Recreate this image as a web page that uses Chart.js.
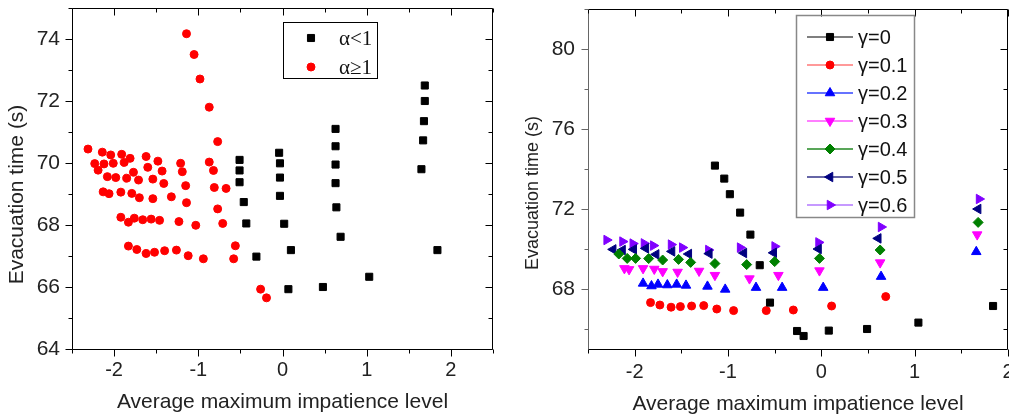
<!DOCTYPE html>
<html lang="en">
<head>
<meta charset="UTF-8">
<title>Evacuation time vs impatience level</title>
<style>
  html, body { margin: 0; padding: 0; background: #fff; overflow: hidden; }
  #left { position: absolute; left: 0; top: 0; width: 510px; height: 418px; }
  #right { position: absolute; left: 515px; top: 0; width: 520px; height: 418px; }
</style>
</head>
<body>
<div id="left"><canvas id="chartA"></canvas></div>
<div id="right"><canvas id="chartB"></canvas></div>

<script src="https://cdn.jsdelivr.net/npm/chart.js"></script>
<script>
// ---- left panel: alpha < 1 / alpha >= 1
const alphaLowX = [-0.51, -0.51, -0.51, -0.46, -0.43, -0.31,
  -0.04, -0.03, -0.03, -0.03, 0.02, 0.10, 0.07,
  0.63, 0.63, 0.63, 0.63, 0.64, 0.69, 0.48,
  1.69, 1.69, 1.68, 1.67, 1.65, 1.03, 1.84];
const alphaLowY = [70.10, 69.76, 69.38, 68.74, 68.05, 66.98,
  70.33, 69.99, 69.53, 68.94, 68.04, 67.19, 65.93,
  71.10, 70.54, 69.95, 69.35, 68.57, 67.62, 66.00,
  72.50, 72.00, 71.35, 70.73, 69.80, 66.33, 67.19];

const alphaHighX = [-2.31, -2.14, -2.04, -1.91, -1.81, -1.62, -1.48, -1.21, -0.87,
  -2.23, -2.12, -2.01, -1.88, -2.19, -1.60, -1.77, -1.43, -1.19, -0.82,
  -2.08, -1.98, -1.85, -1.71, -1.54, -1.41, -1.15, -0.81, -0.67,
  -2.13, -2.06, -1.92, -1.79, -1.70, -1.54, -1.32, -1.14, -0.77,
  -1.92, -1.83, -1.76, -1.66, -1.56, -1.46, -1.23, -1.03, -0.71,
  -1.83, -1.73, -1.62, -1.52, -1.40, -1.26, -1.12, -0.94, -0.58, -0.56,
  -1.14, -1.05, -0.98, -0.87, -0.77, -0.26, -0.19];
const alphaHighY = [70.45, 70.35, 70.26, 70.28, 70.15, 70.21, 70.06, 69.99, 70.03,
  69.98, 69.97, 69.99, 70.02, 69.77, 69.86, 69.70, 69.74, 69.72, 69.76,
  69.56, 69.53, 69.51, 69.45, 69.48, 69.34, 69.27, 69.21, 69.18,
  69.07, 69.01, 69.06, 69.02, 68.88, 68.85, 68.91, 68.72, 68.52,
  68.25, 68.09, 68.22, 68.17, 68.19, 68.15, 68.11, 67.99, 68.05,
  67.32, 67.21, 67.08, 67.12, 67.17, 67.19, 67.01, 66.91, 66.91, 67.33,
  74.17, 73.50, 72.71, 71.80, 70.69, 65.93, 65.65];

// ---- right panel: gamma series
const gammaLabels = ['γ=0', 'γ=0.1', 'γ=0.2', 'γ=0.3', 'γ=0.4', 'γ=0.5', 'γ=0.6'];
const gamma0X = [-1.14, -1.04, -0.98, -0.87, -0.76, -0.66, -0.55, -0.26, -0.19, 0.08, 0.49, 1.04, 1.84];
const gamma0Y = [74.17, 73.52, 72.74, 71.82, 70.72, 69.19, 67.32, 65.90, 65.65, 65.92, 66.00, 66.32, 67.15];
const gamma1X = [-1.83, -1.73, -1.61, -1.51, -1.39, -1.26, -1.12, -0.94, -0.59, -0.30, 0.11, 0.69];
const gamma1Y = [67.32, 67.20, 67.09, 67.12, 67.15, 67.17, 67.00, 66.92, 66.92, 66.95, 67.15, 67.62];
const gamma2X = [-1.91, -1.82, -1.75, -1.65, -1.55, -1.45, -1.22, -1.03, -0.70, -0.42, 0.02, 0.64, 1.66];
const gamma2Y = [68.28, 68.15, 68.23, 68.20, 68.23, 68.18, 68.13, 67.98, 68.07, 68.07, 68.07, 68.62, 69.86];
const gamma3X = [-2.11, -2.06, -1.91, -1.79, -1.70, -1.54, -1.31, -1.14, -0.77, -0.46, -0.02, 0.63, 1.67];
const gamma3Y = [69.03, 68.98, 69.03, 69.00, 68.88, 68.85, 68.90, 68.69, 68.52, 68.69, 68.92, 69.32, 70.72];
const gamma4X = [-2.17, -2.08, -1.99, -1.85, -1.70, -1.53, -1.40, -1.14, -0.80, -0.50, -0.02, 0.63, 1.68];
const gamma4Y = [69.75, 69.53, 69.53, 69.52, 69.45, 69.48, 69.33, 69.27, 69.22, 69.37, 69.53, 69.95, 71.33];
const gamma5X = [-2.23, -2.13, -2.01, -1.88, -1.77, -1.60, -1.42, -1.20, -0.83, -0.51, -0.03, 0.61, 1.68];
const gamma5Y = [69.98, 69.95, 69.98, 70.03, 69.73, 69.88, 69.75, 69.77, 69.80, 69.81, 70.00, 70.53, 72.00];
const gamma6X = [-2.30, -2.13, -2.02, -1.90, -1.80, -1.61, -1.49, -1.21, -0.87, -0.50, -0.03, 0.64, 1.69];
const gamma6Y = [70.45, 70.37, 70.27, 70.28, 70.17, 70.22, 70.07, 69.95, 70.07, 70.13, 70.33, 71.10, 72.50];

const xTitle = 'Average maximum impatience level';
const yTitle = 'Evacuation time (s)';

function pts(xs, ys) { return xs.map((x, i) => ({x: x, y: ys[i]})); }

// marker styles for the gamma series
const gammaStyles = [
  {color: '#000000', line: '#555555', style: 'rect', radius: 5, rotation: 0},
  {color: '#ff0000', line: '#ff7777', style: 'circle', radius: 4, rotation: 0},
  {color: '#0000ff', line: '#3344ff', style: 'triangle', radius: 5.5, rotation: 0},
  {color: '#ff00ff', line: '#ff55ff', style: 'triangle', radius: 5.5, rotation: 180},
  {color: '#008000', line: '#228822', style: 'rectRot', radius: 5, rotation: 0},
  {color: '#000080', line: '#333388', style: 'triangle', radius: 5.5, rotation: 270},
  {color: '#8000ff', line: '#b377ff', style: 'triangle', radius: 5.5, rotation: 90}
];
const gammaData = [[gamma0X, gamma0Y], [gamma1X, gamma1Y], [gamma2X, gamma2Y], [gamma3X, gamma3Y],
  [gamma4X, gamma4Y], [gamma5X, gamma5Y], [gamma6X, gamma6Y]];

const sans = "'Liberation Sans', Arial, sans-serif";

function drawMarker(ctx, style, radius, rotation, x, y, color) {
  ctx.fillStyle = color;
  ctx.strokeStyle = color;
  ctx.lineWidth = 1;
  if (Chart.helpers && Chart.helpers.drawPoint) {
    Chart.helpers.drawPoint(ctx, {pointStyle: style, radius: radius, rotation: rotation, borderWidth: 1}, x, y);
  } else {
    ctx.beginPath(); ctx.arc(x, y, radius, 0, Math.PI * 2); ctx.fill();
  }
}

// frame + inside/outside tick marks
const framePlugin = {
  id: 'frame',
  afterDatasetsDraw(chart, args, opts) {
    const ctx = chart.ctx;
    const {left, right, top, bottom} = chart.chartArea;
    const xs = chart.scales.x, ys = chart.scales.y;
    const L = Math.round(left) + 0.5, R = Math.round(right) - 0.5;
    const T = Math.round(top) + 0.5, B = Math.round(bottom) + 0.5;
    ctx.save();
    ctx.lineWidth = 1;
    const seg = (x1, y1, x2, y2, c) => {
      ctx.strokeStyle = c || opts.color;
      ctx.beginPath(); ctx.moveTo(x1, y1); ctx.lineTo(x2, y2); ctx.stroke();
    };
    seg(L, T, R, T); seg(R, T, R, B); seg(L, B, R, B); seg(L, T, L, B, opts.leftColor);
    xs.ticks.forEach(t => {
      const px = Math.round(xs.getPixelForValue(t.value)) + 0.5;
      const len = t.label !== '' ? opts.major : opts.minor;
      seg(px, B, px, B + len);
      seg(px, T, px, T + len);
    });
    ys.ticks.forEach(t => {
      const py = Math.round(ys.getPixelForValue(t.value)) + 0.5;
      const len = t.label !== '' ? opts.major : opts.minor;
      seg(L - len, py, L, py, opts.leftColor);
      seg(R - len, py, R, py);
    });
    // rotated y title
    ctx.fillStyle = '#222';
    ctx.font = opts.yFont + 'px ' + sans;
    ctx.textAlign = 'center';
    ctx.textBaseline = 'middle';
    ctx.translate(left - opts.yTitleDx, (top + bottom) / 2 + opts.yTitleDy);
    ctx.rotate(-Math.PI / 2);
    ctx.fillText(yTitle, 0, 0);
    ctx.restore();
  }
};

// boxed legends drawn inside the plot area
const legendPlugin = {
  id: 'boxLegend',
  afterDraw(chart, args, opts) {
    const ctx = chart.ctx;
    const a = chart.chartArea;
    const bx = a.left + opts.dx, by = a.top + opts.dy;
    ctx.save();
    ctx.strokeStyle = opts.border;
    ctx.lineWidth = opts.borderWidth;
    ctx.strokeRect(Math.round(bx) + 0.5, Math.round(by) + 0.5, opts.w, opts.h);
    ctx.font = opts.font;
    ctx.textBaseline = 'middle';
    ctx.textAlign = 'left';
    chart.data.datasets.forEach((ds, i) => {
      const y = by + opts.firstRow + i * opts.rowGap;
      if (opts.lines) {
        ctx.strokeStyle = ds.lineColor;
        ctx.lineWidth = 1.5;
        ctx.beginPath(); ctx.moveTo(bx + opts.lineX0, y); ctx.lineTo(bx + opts.lineX1, y); ctx.stroke();
      }
      drawMarker(ctx, ds.pointStyle, ds.pointRadius, ds.pointRotation || 0, bx + opts.markerX, y, ds.backgroundColor);
      ctx.fillStyle = '#111';
      ctx.fillText(ds.label, bx + opts.textX, y + 1);
    });
    ctx.restore();
  }
};

function xAxis(max, labelPad, titlePad) {
  return {
    type: 'linear', min: -2.5, max: max,
    afterFit: s => { s.height = 69; s.paddingLeft = 0; s.paddingRight = 0; },
    grid: {display: false, drawTicks: false},
    border: {display: false},
    ticks: {
      stepSize: 0.5, autoSkip: false, maxRotation: 0, padding: labelPad,
      color: '#222', font: {family: sans, size: 20},
      callback: v => Number.isInteger(v) ? String(v) : ''
    },
    title: {display: true, text: xTitle, color: '#222', font: {family: sans, size: 21},
      padding: {top: 0, bottom: titlePad}}
  };
}

function yAxis(min, max, step, labelEvery, width, labelPad) {
  return {
    type: 'linear', min: min, max: max,
    afterFit: s => { s.width = width; s.paddingTop = 0; s.paddingBottom = 0; },
    grid: {display: false, drawTicks: false},
    border: {display: false},
    ticks: {
      stepSize: step, includeBounds: false, autoSkip: false, padding: labelPad,
      color: '#222', font: {family: sans, size: 21},
      callback: v => v % labelEvery === 0 ? String(v) : ''
    }
  };
}

new Chart(document.getElementById('chartA'), {
  type: 'scatter',
  data: {
    datasets: [
      {label: 'α<1', data: pts(alphaLowX, alphaLowY), pointStyle: 'rect', pointRadius: 5,
        backgroundColor: '#000000', borderColor: '#000000', borderWidth: 1},
      {label: 'α≥1', data: pts(alphaHighX, alphaHighY), pointStyle: 'circle', pointRadius: 4,
        backgroundColor: '#ff0000', borderColor: '#ff0000', borderWidth: 1}
    ]
  },
  options: {
    responsive: true, maintainAspectRatio: false, animation: false,
    layout: {padding: {left: 0, top: 8, right: 17, bottom: 0}},
    plugins: {
      legend: {display: false}, tooltip: {enabled: false},
      frame: {color: '#000', leftColor: '#000', major: 7, minor: 4, yFont: 21, yTitleDx: 55, yTitleDy: 16},
      boxLegend: {dx: 211, dy: 14, w: 94, h: 56, border: '#000', borderWidth: 1,
        font: "21px 'Liberation Serif', 'Times New Roman', serif", firstRow: 16, rowGap: 29,
        lines: false, markerX: 28, textX: 56}
    },
    scales: {x: xAxis(2.5, 9, 3), y: yAxis(64, 75, 1, 2, 72, 12)}
  },
  plugins: [framePlugin, legendPlugin]
});

new Chart(document.getElementById('chartB'), {
  type: 'scatter',
  data: {
    datasets: gammaData.map((d, i) => ({
      label: gammaLabels[i], data: pts(d[0], d[1]),
      pointStyle: gammaStyles[i].style, pointRadius: gammaStyles[i].radius,
      pointRotation: gammaStyles[i].rotation,
      backgroundColor: gammaStyles[i].color, borderColor: gammaStyles[i].color, borderWidth: 1,
      lineColor: gammaStyles[i].line
    }))
  },
  options: {
    responsive: true, maintainAspectRatio: false, animation: false,
    layout: {padding: {left: 0, top: 9, right: 27, bottom: 0}},
    plugins: {
      legend: {display: false}, tooltip: {enabled: false},
      frame: {color: '#000', leftColor: '#666', major: 7, minor: 4, yFont: 18, yTitleDx: 55, yTitleDy: 14},
      boxLegend: {dx: 208, dy: 6, w: 118, h: 202, border: '#888', borderWidth: 1.5,
        font: '20px ' + sans, firstRow: 22, rowGap: 28,
        lines: true, lineX0: 11, lineX1: 57, markerX: 34, textX: 62}
    },
    scales: {x: xAxis(2, 11, 1), y: yAxis(65, 82, 2, 4, 73, 13)}
  },
  plugins: [framePlugin, legendPlugin]
});
</script>
</body>
</html>
